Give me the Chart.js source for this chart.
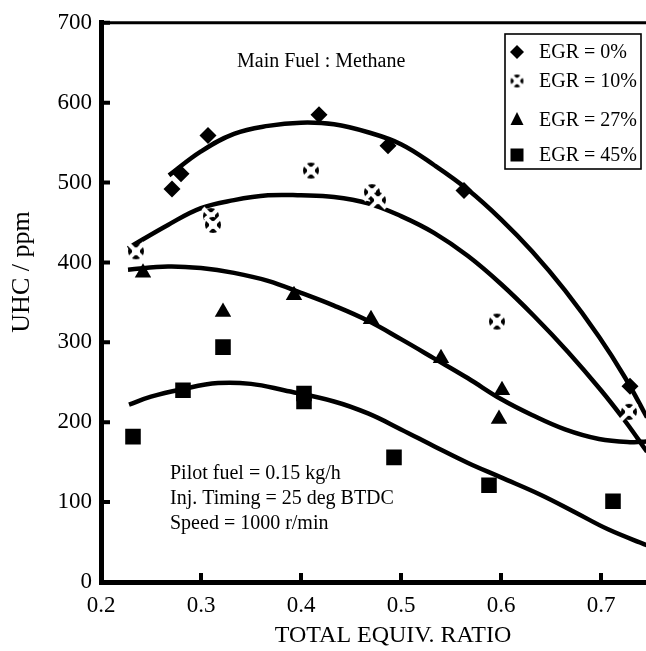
<!DOCTYPE html>
<html>
<head>
<meta charset="utf-8">
<script src="https://cdn.jsdelivr.net/npm/chart.js@4.4.0/dist/chart.umd.min.js"></script>
<style>
    html, body { margin: 0; padding: 0; background: #fff; overflow: hidden; }
</style>
</head>
<body>
<canvas id="uhc-chart" width="646" height="651"></canvas>
<script>
var serie = ['EGR = 0%', 'EGR = 10%', 'EGR = 27%', 'EGR = 45%'];
var xTicks = [0.2, 0.3, 0.4, 0.5, 0.6, 0.7];
var yTicks = [0, 100, 200, 300, 400, 500, 600, 700];

// measured points
var egr0Phi = [0.271, 0.280, 0.307, 0.418, 0.487, 0.563, 0.729];
var egr0Uhc = [492, 511, 559, 585, 546, 490, 245];
var egr10Phi = [0.235, 0.310, 0.312, 0.410, 0.471, 0.477, 0.596, 0.728];
var egr10Uhc = [414, 458, 447, 515, 488, 478, 326, 213];
var egr27Phi = [0.242, 0.322, 0.393, 0.470, 0.540, 0.601, 0.598];
var egr27Uhc = [387, 338, 359, 329, 280, 240, 204];
var egr45Phi = [0.232, 0.282, 0.322, 0.403, 0.403, 0.493, 0.588, 0.712];
var egr45Uhc = [182, 240, 294, 236, 226, 156, 121, 101];

// fitted curves
var fit0Phi = [0.268, 0.300, 0.333, 0.367, 0.400, 0.433, 0.467, 0.500, 0.533, 0.567, 0.600, 0.631, 0.664, 0.698, 0.724, 0.746];
var fit0Uhc = [509, 539, 561, 571, 575, 573, 563, 548, 522, 491, 454, 414, 365, 307, 256, 206];
var fit10Phi = [0.227, 0.267, 0.300, 0.333, 0.367, 0.400, 0.433, 0.467, 0.500, 0.533, 0.567, 0.600, 0.633, 0.667, 0.700, 0.725, 0.746];
var fit10Uhc = [418, 447, 468, 478, 484, 484, 482, 474, 458, 437, 408, 373, 333, 288, 240, 200, 163];
var fit27Phi = [0.227, 0.267, 0.300, 0.333, 0.367, 0.400, 0.433, 0.467, 0.500, 0.533, 0.567, 0.600, 0.631, 0.664, 0.698, 0.731, 0.746];
var fit27Uhc = [391, 395, 393, 387, 377, 362, 346, 327, 304, 280, 255, 229, 209, 191, 179, 175, 176];
var fit45Phi = [0.228, 0.250, 0.280, 0.317, 0.350, 0.383, 0.433, 0.467, 0.500, 0.533, 0.567, 0.600, 0.640, 0.673, 0.707, 0.746];
var fit45Uhc = [222, 232, 241, 249, 248, 240, 226, 211, 191, 170, 149, 131, 109, 88, 66, 46];

var serif = 'Liberation Serif';

function punti(xs, ys) {
    return xs.map(function (v, i) { return { x: v, y: ys[i] }; });
}

// circle broken by a white cross (EGR = 10% marker)
function ringCross(r) {
    var c = document.createElement('canvas');
    var s = Math.ceil(2 * r + 4);
    c.width = s;
    c.height = s;
    var g = c.getContext('2d');
    var m = s / 2;
    g.fillStyle = '#000';
    g.beginPath(); g.arc(m, m, r, 0, Math.PI * 2); g.fill();
    g.fillStyle = '#fff';
    g.beginPath(); g.arc(m, m, r * 0.5, 0, Math.PI * 2); g.fill();
    g.strokeStyle = '#fff';
    g.lineWidth = r * 0.5;
    g.beginPath();
    g.moveTo(m - r, m - r); g.lineTo(m + r, m + r);
    g.moveTo(m + r, m - r); g.lineTo(m - r, m + r);
    g.stroke();
    return c;
}

var marker10 = ringCross(8);
var marker10Small = ringCross(6.5);

function curva(xs, ys) {
    return {
        data: punti(xs, ys),
        showLine: true,
        pointRadius: 0,
        borderColor: '#000',
        borderWidth: 4.5,
        tension: 0.4
    };
}

function disegnaSimbolo(ctx, i, x, y) {
    ctx.fillStyle = '#000';
    ctx.beginPath();
    if (i === 0) {
        ctx.moveTo(x - 7, y); ctx.lineTo(x, y - 7); ctx.lineTo(x + 7, y); ctx.lineTo(x, y + 7);
        ctx.closePath(); ctx.fill();
    } else if (i === 1) {
        ctx.drawImage(marker10Small, x - marker10Small.width / 2, y - marker10Small.height / 2);
    } else if (i === 2) {
        ctx.moveTo(x, y - 8); ctx.lineTo(x + 6.5, y + 5); ctx.lineTo(x - 6.5, y + 5);
        ctx.closePath(); ctx.fill();
    } else {
        ctx.fillRect(x - 6.5, y - 6.5, 13, 13);
    }
}

var decor = {
    id: 'decor',
    afterDraw: function (chart) {
        var ctx = chart.ctx;
        var a = chart.chartArea;
        var sx = chart.scales.x;
        var sy = chart.scales.y;
        ctx.save();

        // top frame line
        ctx.strokeStyle = '#000';
        ctx.lineWidth = 3;
        ctx.beginPath();
        ctx.moveTo(a.left, a.top);
        ctx.lineTo(a.right, a.top);
        ctx.stroke();

        // inward tick marks
        ctx.lineWidth = 4;
        ctx.beginPath();
        sx.ticks.forEach(function (t) {
            var p = sx.getPixelForValue(t.value);
            if (p <= a.left + 2) return;
            ctx.moveTo(p, a.bottom);
            ctx.lineTo(p, a.bottom - 9);
        });
        sy.ticks.forEach(function (t) {
            var p = sy.getPixelForValue(t.value);
            ctx.moveTo(a.left, p);
            ctx.lineTo(a.left + 9, p);
        });
        ctx.stroke();

        // axis titles
        ctx.fillStyle = '#000';
        ctx.textAlign = 'center';
        ctx.textBaseline = 'middle';
        ctx.font = '24px "' + serif + '"';
        ctx.fillText('TOTAL EQUIV. RATIO', 393, 636);
        ctx.save();
        ctx.translate(22, 272);
        ctx.rotate(-Math.PI / 2);
        ctx.font = '26px "' + serif + '"';
        ctx.fillText('UHC / ppm', 0, 0);
        ctx.restore();

        // notes
        ctx.textAlign = 'left';
        ctx.textBaseline = 'alphabetic';
        ctx.font = '20px "' + serif + '"';
        ctx.fillText('Main Fuel : Methane', 237, 67);
        ctx.fillText('Pilot fuel = 0.15 kg/h', 170, 479);
        ctx.fillText('Inj. Timing = 25 deg BTDC', 170, 504);
        ctx.fillText('Speed = 1000 r/min', 170, 529);

        // legend box
        ctx.lineWidth = 1.6;
        ctx.fillStyle = '#fff';
        ctx.fillRect(505, 34, 136, 135);
        ctx.strokeRect(505, 34, 136, 135);
        var righe = [52, 81, 120, 155];
        ctx.textBaseline = 'middle';
        for (var i = 0; i < serie.length; i++) {
            disegnaSimbolo(ctx, i, 517, righe[i]);
            ctx.fillStyle = '#000';
            ctx.fillText(serie[i], 539, righe[i] + 1);
        }
        ctx.restore();
    }
};

var ctx = document.getElementById('uhc-chart');
var grafico = new Chart(ctx, {
    type: 'scatter',
    data: {
        datasets: [
            { label: serie[0], data: punti(egr0Phi, egr0Uhc), pointStyle: 'rectRot', pointRadius: 8.5, backgroundColor: '#000', borderWidth: 0 },
            { label: serie[1], data: punti(egr10Phi, egr10Uhc), pointStyle: marker10, pointRadius: 8 },
            { label: serie[2], data: punti(egr27Phi, egr27Uhc), pointStyle: 'triangle', pointRadius: 9.5, backgroundColor: '#000', borderWidth: 0 },
            { label: serie[3], data: punti(egr45Phi, egr45Uhc), pointStyle: 'rect', pointRadius: 11, backgroundColor: '#000', borderWidth: 0 },
            curva(fit0Phi, fit0Uhc),
            curva(fit10Phi, fit10Uhc),
            curva(fit27Phi, fit27Uhc),
            curva(fit45Phi, fit45Uhc)
        ]
    },
    options: {
        responsive: false,
        animation: false,
        layout: { autoPadding: false, padding: { top: 19, right: 0, bottom: 0, left: 0 } },
        plugins: {
            legend: { display: false },
            tooltip: { enabled: false }
        },
        scales: {
            x: {
                type: 'linear',
                min: 0.2,
                max: 0.745,
                grid: { display: false, drawTicks: false },
                border: { display: true, width: 5, color: '#000' },
                ticks: {
                    color: '#000',
                    padding: 10,
                    font: { family: serif, size: 23 },
                    callback: function (v) { return v.toFixed(1); }
                },
                afterBuildTicks: function (s) {
                    s.ticks = xTicks.map(function (v) { return { value: v }; });
                },
                afterFit: function (s) {
                    s.height = 69;
                    s.paddingLeft = 0;
                    s.paddingRight = 0;
                }
            },
            y: {
                min: 0,
                max: 700,
                grid: { display: false, drawTicks: false },
                border: { display: true, width: 5, color: '#000' },
                ticks: {
                    color: '#000',
                    padding: 9,
                    font: { family: serif, size: 23 }
                },
                afterBuildTicks: function (s) {
                    s.ticks = yTicks.map(function (v) { return { value: v }; });
                },
                afterFit: function (s) { s.width = 101; }
            }
        }
    },
    plugins: [decor]
});
</script>
</body>
</html>
